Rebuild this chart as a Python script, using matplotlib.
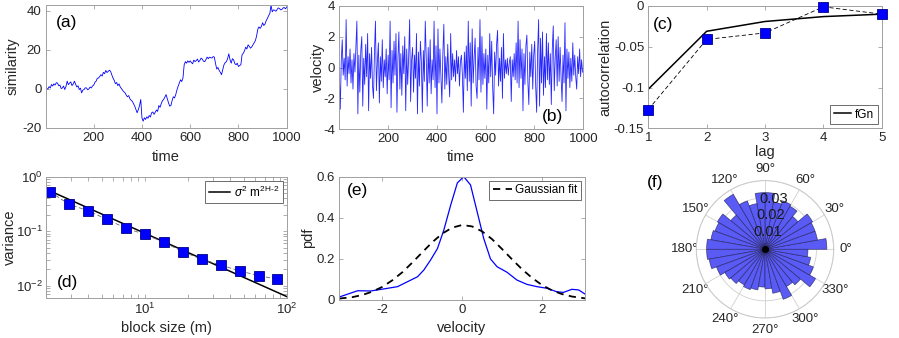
import numpy as np
import matplotlib
matplotlib.use("Agg")
import matplotlib.pyplot as plt

plt.rcParams['font.family'] = ['Liberation Sans', 'DejaVu Sans']
plt.rcParams['axes.unicode_minus'] = False
plt.rcParams['mathtext.fontset'] = 'custom'
plt.rcParams['mathtext.it'] = 'Liberation Sans:italic'
plt.rcParams['mathtext.rm'] = 'Liberation Sans'

# ---- data ----
# (a) similarity vs time, sampled every 5 steps
sim_time = np.arange(0, 1001, 5)
sim_vals = [4.0, 0.2, 0.0, 1.2, 0.5, 2.3, 1.5, 2.6, 2.0, 3.2, 3.0, 1.6, 2.0, 0.2, 0.5, 1.5, -0.3, 1.2, 4.0, 2.2,
            3.0, 3.6, 1.7, 2.5, 4.0, 2.4, 1.0, 1.6, -0.3, 0.4, -2.0, -0.6, -0.3, 0.6, 0.5, -0.4, 0.0, 1.0, 0.5, 1.5,
            2.0, 3.4, 4.0, 5.5, 5.6, 6.4, 7.3, 6.6, 8.5, 7.8, 9.5, 8.4, 9.0, 9.6, 9.0, 7.2, 5.6, 4.4, 2.7, 3.3,
            1.7, 2.6, 1.0, 0.2, -0.7, -1.4, -2.0, -3.2, -4.0, -3.4, -5.0, -5.8, -6.3, -7.5, -8.8, -10.5, -12.2, -10.6, -8.5, -5.4,
            -14.8, -16.5, -14.8, -15.6, -14.3, -15.0, -13.6, -14.4, -12.2, -11.8, -13.0, -12.0, -10.8, -11.5, -8.5, -9.4, -7.5, -6.0, -5.4, -4.2,
            -2.9, -5.0, -7.1, -8.8, -8.5, -6.0, -4.0, -4.6, -2.9, -0.5, 1.4, 3.0, 4.7, 3.8, 5.6, 12.4, 14.0, 13.2, 14.4, 13.6,
            14.4, 13.5, 12.9, 14.8, 14.0, 14.5, 15.3, 13.8, 14.6, 15.8, 15.3, 14.2, 14.0, 15.0, 16.3, 15.5, 16.3, 16.0, 15.8, 16.6,
            16.3, 13.0, 10.2, 11.0, 9.5, 8.5, 7.3, 10.0, 12.4, 13.5, 14.0, 15.5, 18.0, 15.0, 13.2, 15.5, 14.9, 13.0, 12.4, 13.2,
            11.5, 12.0, 12.4, 17.5, 18.3, 19.5, 21.4, 20.5, 22.6, 21.8, 20.9, 21.5, 22.6, 23.8, 24.7, 27.0, 30.5, 31.8, 31.0, 32.0,
            33.9, 32.5, 33.2, 35.0, 36.1, 37.5, 38.6, 43.0, 39.5, 40.5, 40.3, 39.8, 40.7, 41.5, 41.2, 40.5, 40.7, 41.5, 41.7, 41.0,
            42.0]

# (b) velocity vs time, sampled every 4 steps
vel_time = np.arange(1, 1001, 4)
vel_vals = [-0.3, -2.7, 0.4, 1.8, -0.5, 0.6, -0.8, 3.1, -1.2, 0.7, -0.4, 1.2, -1.0, 0.5, -1.4, 0.9, -0.3, 1.4, 3.0, -3.0, 0.8, -1.6, 1.1, 2.0, -2.5,
            0.6, -1.1, 1.5, -0.6, 2.2, -2.8, 0.9, -0.7, 1.3, -1.2, -2.0, 1.0, 3.0, -1.5, 0.4, 1.6, -2.3, 0.7, -0.9, 1.8, -1.3, 0.5, -0.6, 1.2, -1.7,
            0.8, -0.8, 3.0, -2.6, 1.1, -1.0, 1.7, -0.5, 2.2, -2.9, 0.6, 2.3, -1.4, 0.9, -1.8, 1.4, -0.4, 2.0, -2.8, 1.2, -1.1, 0.7, 3.1, -2.2, 0.5,
            1.3, -1.6, 0.8, -0.7, 2.2, -3.0, 1.0, -1.2, 1.7, 0.4, -2.9, 1.1, -0.9, 3.0, 0.6, -2.5, 1.3, -1.0, 1.8, -1.7, 0.5, -0.8, 3.0, -1.3, 1.4,
            -3.0, 2.5, -1.0, 1.2, -0.6, -2.3, 0.9, 2.8, -1.4, 0.7, -1.1, 1.5, -0.5, -1.9, 2.2, -0.8, 0.9, -0.6, 0.5, -0.9, 1.1, -0.4, 0.7, -1.2, 0.4,
            0.8, -0.5, -2.9, 1.0, -0.7, 1.4, -1.5, 3.0, -0.9, 1.6, -2.5, 2.5, -1.0, 0.6, 1.9, -1.2, -2.0, 1.3, -0.8, 3.1, -1.6, 2.0, -1.1, 0.9, -0.7,
            1.2, -2.7, 0.8, -1.0, 2.2, -0.6, 1.7, -1.3, -3.0, 1.0, -0.5, 1.5, 2.4, -1.2, 0.6, -0.9, 1.3, -2.0, 2.2, -0.7, 0.5, -0.4, 0.6, -0.5, 0.3,
            0.7, -2.2, 0.5, -0.6, 0.9, -0.8, 1.6, -1.0, 3.0, -1.3, 1.8, -0.7, 1.2, -2.8, 0.9, -1.1, 1.4, 2.1, -0.9, -2.4, 1.0, -0.6, 1.5, -1.4, 0.8,
            1.7, -1.2, -2.9, 1.1, 3.1, -2.5, 1.9, -1.0, 2.3, -1.8, 0.7, -1.3, 2.2, -0.8, 1.6, -1.1, 0.9, -2.4, 1.2, 2.7, -1.5, 0.6, 1.8, -1.2, 2.0,
            -0.9, 1.3, -0.6, -2.2, 0.8, -1.0, 2.9, -2.8, 1.2, -0.7, 1.0, -1.3, 0.6, -0.9, 1.6, -0.5, 0.8, -0.6, -1.4, 0.7, -0.4, 1.2, -0.6, 0.5, -0.3]

# (c) autocorrelation
lags = [1, 2, 3, 4, 5]
acf_data = [-0.127, -0.041, -0.033, -0.001, -0.010]
acf_fgn = [-0.102, -0.031, -0.019, -0.013, -0.010]

# (d) aggregated variance
block_m = [2.14, 2.9, 3.95, 5.4, 7.35, 10.0, 13.6, 18.5, 25.2, 34.2, 46.5, 63.3, 86.0]
block_var = [0.53, 0.315, 0.238, 0.165, 0.113, 0.0875, 0.0624, 0.042, 0.0304, 0.0239, 0.0186, 0.0153, 0.0131]
fit_m = [2.0, 100.0]
fit_var = [0.594, 0.0063]

# (e) pdf of velocity
pdf_x = [-3.06, -2.62, -2.29, -1.96, -1.62, -1.37, -1.12, -0.96, -0.79, -0.62, -0.46, -0.29, -0.12, 0.04,
         0.21, 0.375, 0.54, 0.71, 0.875, 1.125, 1.375, 1.625, 1.875, 2.125, 2.375, 2.54, 2.75, 2.92, 3.08]
pdf_y = [0.016, 0.045, 0.044, 0.054, 0.065, 0.089, 0.113, 0.146, 0.195, 0.25, 0.34, 0.46, 0.57, 0.60,
         0.56, 0.43, 0.30, 0.20, 0.162, 0.135, 0.097, 0.076, 0.065, 0.057, 0.04, 0.037, 0.052, 0.049, 0.029]
gauss_x = [-3.08, -2.75, -2.5, -2.25, -2.0, -1.75, -1.5, -1.25, -1.0, -0.75, -0.5, -0.25, 0.0,
           0.25, 0.5, 0.75, 1.0, 1.25, 1.5, 1.75, 2.0, 2.25, 2.5, 2.75, 3.08]
gauss_y = [0.007, 0.014, 0.0245, 0.041, 0.064, 0.096, 0.135, 0.182, 0.232, 0.281, 0.323, 0.352, 0.365,
           0.358, 0.334, 0.296, 0.248, 0.198, 0.150, 0.108, 0.073, 0.047, 0.029, 0.017, 0.008]

# (f) angular histogram, 10 degree bins starting at 0
ang_edges_deg = np.arange(0, 360, 10)
ang_prob = [0.036, 0.031, 0.031, 0.032, 0.025, 0.029, 0.030, 0.028, 0.033, 0.033, 0.027, 0.030,
            0.037, 0.026, 0.032, 0.031, 0.032, 0.034, 0.034, 0.033, 0.030, 0.027, 0.026, 0.024,
            0.025, 0.024, 0.022, 0.023, 0.026, 0.031, 0.025, 0.027, 0.034, 0.030, 0.027, 0.025]
r_ticks = [0.01, 0.02, 0.03]

W, H = 899, 338
fig = plt.figure(figsize=(W / 100, H / 100), dpi=100)


def box(l, t, r, b):
    return [l / W, 1 - b / H, (r - l) / W, (b - t) / H]


def px(x, y):
    return x / W, 1 - y / H


TICK = 9.5
LAB = 10.5
spine_c = '#a0a0a0'
txt_c = '#262626'


def style(ax):
    for s in ax.spines.values():
        s.set_color(spine_c)
        s.set_linewidth(0.7)
    ax.tick_params(direction='in', which='both', top=True, right=True, colors=spine_c,
                   labelcolor=txt_c, labelsize=TICK, length=3, width=0.6, pad=3)


def legend(ax, handle, loc, hl):
    lg = ax.legend(handles=[handle], loc=loc, fontsize=8.5, handlelength=hl,
                   handletextpad=0.3, borderpad=0.3, borderaxespad=0.35, fancybox=False,
                   edgecolor='#555555', framealpha=1)
    lg.get_frame().set_linewidth(0.6)


# (a)
ax = fig.add_axes(box(45.7, 5, 286.7, 128))
ax.plot(sim_time, sim_vals, color='b', lw=0.6)
ax.set_xlim(1, 1000)
ax.set_ylim(-20, 43)
ax.set_xticks([200, 400, 600, 800, 1000])
ax.set_yticks([-20, 0, 20, 40])
style(ax)
fig.text(*px(56, 23), '(a)', fontsize=12.5, va='center', color='k')
fig.text(*px(13, 66), 'similarity', rotation=90, fontsize=LAB, va='center', ha='center', color=txt_c)
fig.text(*px(166, 157), 'time', fontsize=LAB, va='center', ha='center', color=txt_c)

# (b)
ax = fig.add_axes(box(339.3, 5.7, 583.3, 129.3))
ax.plot(vel_time, vel_vals, color='b', lw=0.6, alpha=0.85)
ax.set_xlim(1, 1000)
ax.set_ylim(-4, 4)
ax.set_xticks([200, 400, 600, 800, 1000])
ax.set_yticks([-4, -2, 0, 2, 4])
style(ax)
fig.text(*px(542, 117), '(b)', fontsize=12.5, va='center', color='k')
fig.text(*px(318, 67), 'velocity', rotation=90, fontsize=LAB, va='center', ha='center', color=txt_c)
fig.text(*px(461, 157), 'time', fontsize=LAB, va='center', ha='center', color=txt_c)

# (c)
ax = fig.add_axes(box(648.3, 6, 881.7, 128.3))
fgn_line, = ax.plot(lags, acf_fgn, color='k', lw=1.1, label='fGn')
ax.plot(lags, acf_data, color='k', lw=0.6, ls=(0, (5, 3)), marker='s', ms=6.5,
        mfc='b', mec='#00008b', mew=0.6, clip_on=False, zorder=4)
ax.set_xlim(1, 5)
ax.set_ylim(-0.15, 0)
ax.set_xticks([1, 2, 3, 4, 5])
ax.set_yticks([-0.15, -0.1, -0.05, 0])
ax.set_yticklabels(['-0.15', '-0.1', '-0.05', '0'])
style(ax)
legend(ax, fgn_line, 'lower right', 1.5)
fig.text(*px(653, 25), '(c)', fontsize=12.5, va='center', color='k')
fig.text(*px(605, 67), 'autocorrelation', rotation=90, fontsize=LAB, va='center', ha='center', color=txt_c)
fig.text(*px(765, 152), 'lag', fontsize=LAB, va='center', ha='center', color=txt_c)

# (d)
ax = fig.add_axes(box(45.7, 176.7, 286.7, 297.7))
fit_line, = ax.plot(fit_m, fit_var, color='k', lw=1.1)
ax.plot(block_m, block_var, color='#666666', lw=0.6, ls=(0, (5, 3)), marker='s', ms=6.5,
        mfc='b', mec='#00008b', mew=0.6)
ax.set_xscale('log')
ax.set_yscale('log')
ax.set_xlim(2, 100)
ax.set_ylim(0.006, 1)
style(ax)
ax.tick_params(axis='y', pad=2)
fit_line.set_label(r'$\sigma^2$ m$^{\rm 2H\text{-}2}$')
legend(ax, fit_line, 'upper right', 1.8)
fig.text(*px(57, 283), '(d)', fontsize=12.5, va='center', color='k')
fig.text(*px(10, 237), 'variance', rotation=90, fontsize=LAB, va='center', ha='center', color=txt_c)
fig.text(*px(166, 328), 'block size (m)', fontsize=LAB, va='center', ha='center', color=txt_c)

# (e)
ax = fig.add_axes(box(339.3, 176.7, 585, 300))
ax.plot(pdf_x, pdf_y, color='b', lw=0.9)
gauss_line, = ax.plot(gauss_x, gauss_y, color='k', lw=1.3, ls=(0, (4, 3)), label='Gaussian fit')
ax.set_xlim(-3.08, 3.08)
ax.set_ylim(0, 0.6)
ax.set_xticks([-2, 0, 2])
ax.set_yticks([0, 0.2, 0.4, 0.6])
ax.set_yticklabels(['0', '0.2', '0.4', '0.6'])
style(ax)
legend(ax, gauss_line, 'upper right', 1.6)
fig.text(*px(347, 190), '(e)', fontsize=12.5, va='center', color='k')
fig.text(*px(308, 238), 'pdf', rotation=90, fontsize=LAB, va='center', ha='center', color=txt_c)
fig.text(*px(462, 328), 'velocity', fontsize=LAB, va='center', ha='center', color=txt_c)

# (f)
ax = fig.add_axes(box(696.3, 180.6, 833.7, 318), projection='polar')
ax.set_axisbelow(True)
ax.bar(np.deg2rad(ang_edges_deg), ang_prob, width=np.deg2rad(10), align='edge',
       color='#5a5af5', edgecolor=(0.1, 0.1, 0.3, 0.7), linewidth=0.5, zorder=2)
ax.plot([0], [0], 'o', color='k', ms=4, zorder=3)
ax.set_ylim(0, 0.04)
ax.set_yticks([0.01, 0.02, 0.03, 0.04])
ax.set_yticklabels([])
for rv in r_ticks:
    ax.text(np.deg2rad(80), rv, f'{rv:.2f}', fontsize=10.5, color='#1a1a1a', ha='center', va='center', zorder=6)
ax.set_xticks(np.deg2rad(np.arange(0, 360, 30)))
ax.set_xticklabels([f'{d}\u00b0' for d in range(0, 360, 30)])
ax.tick_params(axis='x', labelsize=TICK, pad=-2, labelcolor=txt_c)
ax.grid(color='#d0d0d0', lw=0.6)
ax.spines['polar'].set_color('#c8c8c8')
ax.spines['polar'].set_linewidth(0.7)
fig.text(*px(647, 182), '(f)', fontsize=12.5, va='center', color='k')

fig.savefig('out.png', dpi=100)
